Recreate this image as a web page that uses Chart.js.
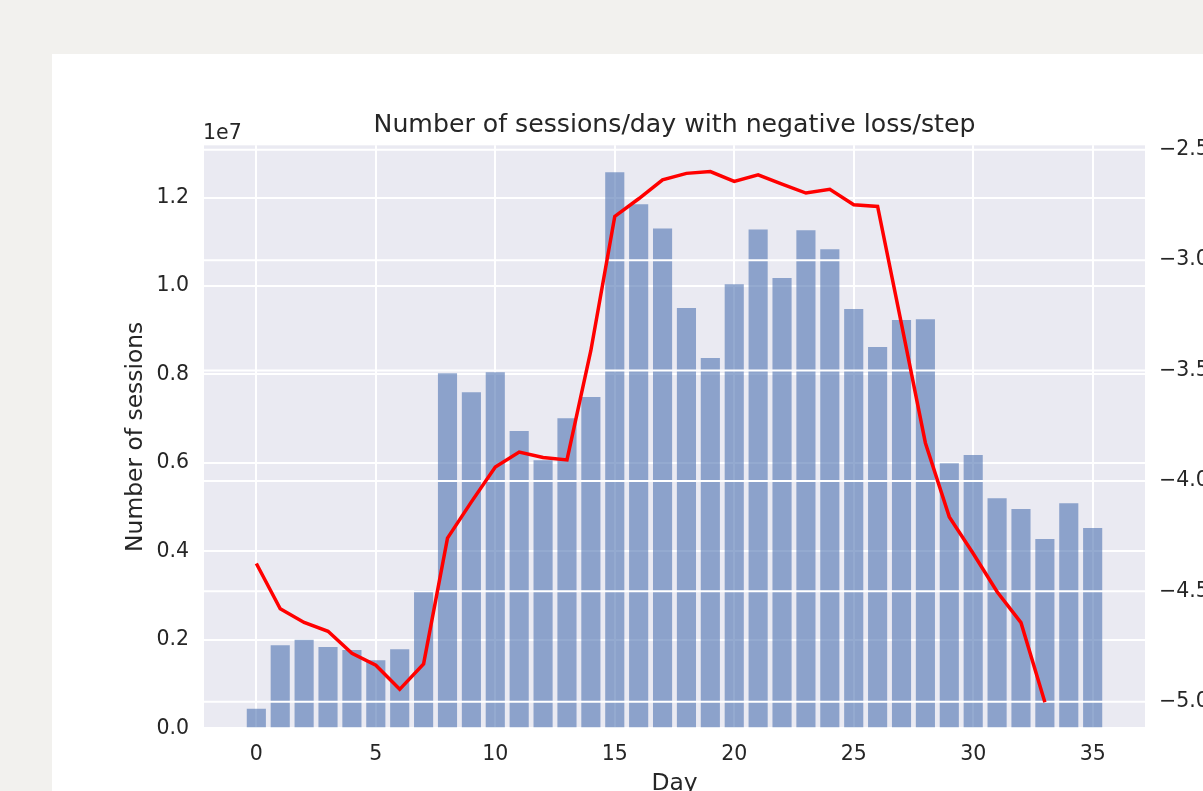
<!DOCTYPE html>
<html>
<head>
<meta charset="utf-8">
<title>Number of sessions/day with negative loss/step</title>
<script src="https://cdn.jsdelivr.net/npm/chart.js@4.4.1/dist/chart.umd.min.js"></script>
<style>
    html, body {
        margin: 0;
        padding: 0;
        width: 1203px;
        height: 791px;
        overflow: hidden;
        background: #f2f1ee;
    }
    #panel {
        position: absolute;
        left: 52px;
        top: 54px;
        right: 0;
        bottom: 0;
        background: #ffffff;
    }
    #wrap {
        position: absolute;
        left: 0;
        top: 0;
        width: 1250px;
        height: 830px;
    }
</style>
</head>
<body>
<div id="panel"></div>
<div id="wrap"><canvas id="sessionsChart"></canvas></div>
<script>
// === DATA ===
const days = [
    0, 1, 2, 3, 4, 5, 6, 7, 8, 9,
    10, 11, 12, 13, 14, 15, 16, 17, 18, 19,
    20, 21, 22, 23, 24, 25, 26, 27, 28, 29,
    30, 31, 32, 33, 34, 35
];

// sessions per day (bars, left axis)
const sessions = [
    0.044e7, 0.188e7, 0.200e7, 0.184e7, 0.177e7, 0.154e7, 0.179e7, 0.312e7, 0.803e7, 0.760e7,
    0.805e7, 0.672e7, 0.606e7, 0.701e7, 0.749e7, 1.257e7, 1.185e7, 1.130e7, 0.950e7, 0.837e7,
    1.004e7, 1.128e7, 1.018e7, 1.126e7, 1.083e7, 0.948e7, 0.862e7, 0.923e7, 0.925e7, 0.599e7,
    0.618e7, 0.520e7, 0.496e7, 0.428e7, 0.509e7, 0.453e7
];

// negative loss/step (red line, right axis) - only days 0..33
const lossPerStep = [
    -4.374, -4.579, -4.641, -4.681, -4.781, -4.835, -4.944, -4.829, -4.259, -4.095,
    -3.937, -3.869, -3.894, -3.905, -3.409, -2.802, -2.722, -2.636, -2.607, -2.599,
    -2.643, -2.614, -2.656, -2.696, -2.679, -2.749, -2.757, -3.290, -3.828, -4.163,
    -4.329, -4.502, -4.642, -5.003
];

const dayTicks = [0, 5, 10, 15, 20, 25, 30, 35];
const sessionTicks = [0, 0.2e7, 0.4e7, 0.6e7, 0.8e7, 1.0e7, 1.2e7];
const lossTicks = [-5.0, -4.5, -4.0, -3.5, -3.0, -2.5];

// === STYLE ===
const TEXT = '#262626';
const FONT = 'DejaVu Sans';
const PLOT_BG = '#eaeaf2';

// plot background, twin-axis grid above bars, and the "1e7" offset text
const axesDecor = {
    id: 'axesDecor',
    beforeDraw(chart) {
        const { ctx, chartArea: a } = chart;
        ctx.save();
        ctx.fillStyle = PLOT_BG;
        ctx.fillRect(a.left, a.top, a.right - a.left, a.bottom - a.top);
        ctx.restore();
    },
    afterDatasetDraw(chart, args) {
        if (args.index !== 0) return;
        const { ctx, chartArea: a } = chart;
        const y2 = chart.scales.y2;
        ctx.save();
        ctx.strokeStyle = '#ffffff';
        ctx.lineWidth = 2;
        y2.ticks.forEach(t => {
            const y = y2.getPixelForValue(t.value);
            ctx.beginPath();
            ctx.moveTo(a.left, y);
            ctx.lineTo(a.right, y);
            ctx.stroke();
        });
        ctx.restore();
    },
    afterDraw(chart) {
        const { ctx, chartArea: a } = chart;
        ctx.save();
        ctx.fillStyle = TEXT;
        ctx.font = '20.5px "' + FONT + '"';
        ctx.textAlign = 'left';
        ctx.textBaseline = 'alphabetic';
        ctx.fillText('1e7', a.left - 1, 138.7);
        ctx.restore();
    }
};

const minus = v => (v < 0 ? '\u2212' : '') + Math.abs(v).toFixed(1);

new Chart(document.getElementById('sessionsChart').getContext('2d'), {
    type: 'bar',
    data: {
        datasets: [
            {
                type: 'bar',
                label: 'Number of sessions',
                data: days.map((d, i) => ({ x: d, y: sessions[i] })),
                backgroundColor: 'rgba(76,114,176,0.6)',
                borderWidth: 0,
                barPercentage: 0.8,
                categoryPercentage: 1.0,
                yAxisID: 'y',
                order: 1
            },
            {
                type: 'line',
                label: 'Loss/step',
                data: lossPerStep.map((v, i) => ({ x: days[i], y: v })),
                borderColor: '#ff0000',
                borderWidth: 3.5,
                pointRadius: 0,
                tension: 0,
                fill: false,
                yAxisID: 'y2',
                order: 0
            }
        ]
    },
    options: {
        responsive: true,
        maintainAspectRatio: false,
        animation: false,
        devicePixelRatio: 1,
        layout: { padding: 0 },
        plugins: {
            legend: { display: false },
            tooltip: { enabled: false },
            title: {
                display: true,
                fullSize: false,
                text: 'Number of sessions/day with negative loss/step',
                color: TEXT,
                font: { family: FONT, size: 25.2, weight: 'normal', lineHeight: 1.2 },
                padding: { top: 110.8, bottom: 4.3 }
            }
        },
        scales: {
            x: {
                type: 'linear',
                min: -2.19,
                max: 37.19,
                offset: false,
                afterFit: s => { s.height = 101.7; },
                afterBuildTicks: s => { s.ticks = dayTicks.map(v => ({ value: v })); },
                grid: { color: '#ffffff', lineWidth: 2, drawTicks: false, offset: false },
                border: { display: false },
                ticks: {
                    color: TEXT,
                    font: { family: FONT, size: 20.5 },
                    padding: 14,
                    maxRotation: 0,
                    autoSkip: false,
                    callback: v => String(v)
                },
                title: {
                    display: true,
                    text: 'Day',
                    color: TEXT,
                    font: { family: FONT, size: 23.4 },
                    padding: { top: 0, bottom: 32 }
                }
            },
            y: {
                position: 'left',
                min: 0,
                max: 1.318e7,
                afterFit: s => { s.width = 204; },
                afterBuildTicks: s => { s.ticks = sessionTicks.map(v => ({ value: v })); },
                grid: { color: '#ffffff', lineWidth: 2, drawTicks: false },
                border: { display: false },
                ticks: {
                    color: TEXT,
                    font: { family: FONT, size: 20.5 },
                    padding: 15,
                    callback: v => (v / 1e7).toFixed(1)
                },
                title: {
                    display: true,
                    text: 'Number of sessions',
                    color: TEXT,
                    font: { family: FONT, size: 23.4 },
                    padding: { top: 122, bottom: 0 }
                }
            },
            y2: {
                position: 'right',
                min: -5.1205,
                max: -2.480,
                afterFit: s => { s.width = 105; },
                afterBuildTicks: s => { s.ticks = lossTicks.map(v => ({ value: v })); },
                grid: { display: false, drawTicks: false },
                border: { display: false },
                ticks: {
                    color: TEXT,
                    font: { family: FONT, size: 20.5 },
                    padding: 14,
                    callback: minus
                }
            }
        }
    },
    plugins: [axesDecor]
});
</script>
</body>
</html>
